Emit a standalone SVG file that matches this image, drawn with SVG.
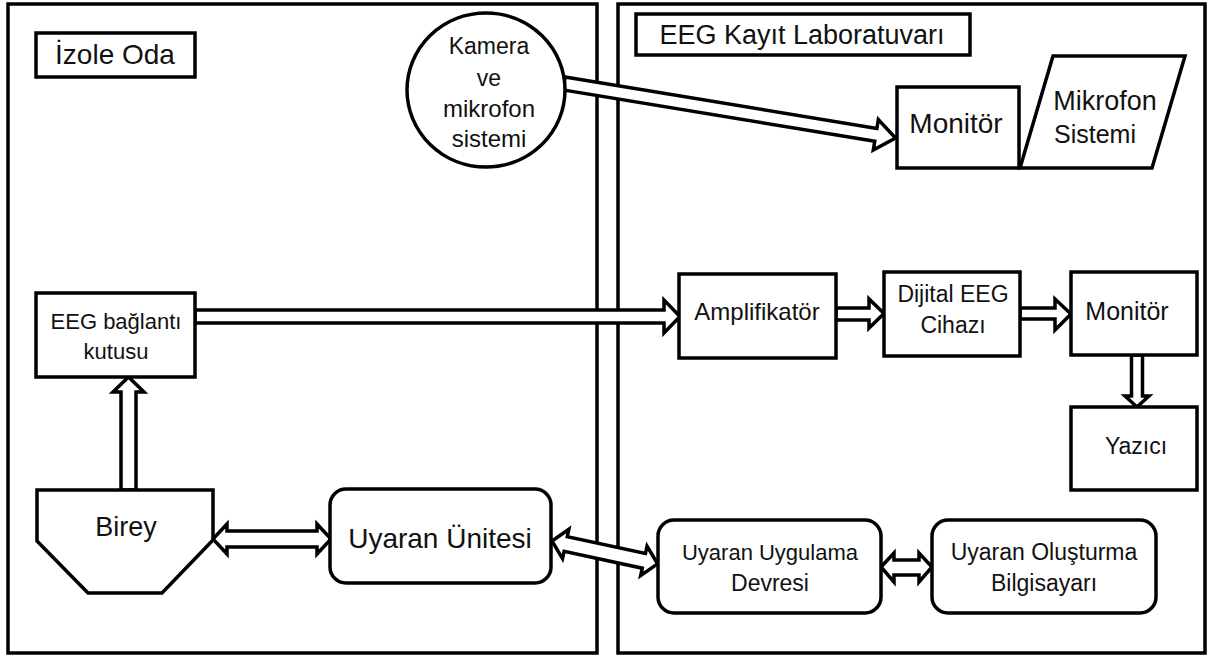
<svg xmlns="http://www.w3.org/2000/svg" width="1215" height="659" viewBox="0 0 1215 659">
<style>
.room{fill:none;stroke:#000;stroke-width:3.5}
.box{fill:#fff;stroke:#000;stroke-width:3.5}
.arr{fill:#fff;stroke:#000;stroke-width:3.5;stroke-linejoin:miter}
text{font-family:"Liberation Sans",Arial,sans-serif;fill:#111;text-anchor:middle}
</style>
<rect width="1215" height="659" fill="#fff"/>
<g id="rooms">
<rect class="room" x="8" y="4" width="589" height="649"/>
<rect class="room" x="618" y="4" width="587" height="649"/>
</g>
<g id="connectors">
<!-- camera -> monitor -->
<polygon class="arr" transform="translate(564,83.5) rotate(9.35)" points="0,-6.5 316,-6.5 316,-15.5 336,0 316,15.5 316,6.5 0,6.5"/>
<!-- EEG box -> Amplifikator -->
<polygon class="arr" points="195,310 664,310 664,300 680,316.5 664,333 664,323 195,323"/>
<!-- Amp -> Dijital -->
<polygon class="arr" points="836,308 869,308 869,299 884,313.5 869,328 869,320 836,320"/>
<!-- Dijital -> Monitor -->
<polygon class="arr" points="1020,308 1055,308 1055,299 1071,314 1055,330 1055,319 1020,319"/>
<!-- Monitor -> Yazici -->
<polygon class="arr" points="1131.5,355 1142.5,355 1142.5,396 1149,396 1137,407 1125,396 1131.5,396"/>
<!-- Birey -> EEG box -->
<polygon class="arr" points="121,490 136,490 136,392 144,392 128.5,377 113,392 121,392"/>
<!-- Birey <-> Uyaran Unitesi -->
<polygon class="arr" points="213,539 227,524 227,531 317,531 317,524 331,539 317,554 317,547 227,547 227,554"/>
<!-- Uyaran Unitesi <-> Uygulama -->
<polygon class="arr" transform="translate(552,541) rotate(12.2)" points="0,0 14,-15 14,-7.5 94,-7.5 94,-15 108,0 94,15 94,7.5 14,7.5 14,15"/>
<!-- Uygulama <-> Olusturma -->
<polygon class="arr" points="881,567 894,553 894,560 919,560 919,553 932,567 919,582 919,575 894,575 894,582"/>
</g>
<g id="izole-oda-label">
<rect class="box" x="36" y="33" width="159" height="44"/>
<text x="115" y="64" font-size="28">İzole Oda</text>
</g>
<g id="kamera">
<ellipse class="box" cx="486" cy="90" rx="79" ry="77"/>
<text x="489" y="54" font-size="23">Kamera</text>
<text x="489" y="86" font-size="23">ve</text>
<text x="489" y="117" font-size="24">mikrofon</text>
<text x="489" y="147" font-size="24">sistemi</text>
</g>
<g id="eeg-lab-label">
<rect class="box" x="636" y="14" width="334" height="41"/>
<text x="802" y="44" font-size="27">EEG Kayıt Laboratuvarı</text>
</g>
<g id="monitor-top">
<rect class="box" x="897" y="87" width="122" height="81"/>
<text x="956" y="133" font-size="28">Monitör</text>
</g>
<g id="mikrofon-sistemi">
<polygon class="box" points="1020,168 1053,56 1185,56 1152,168"/>
<text x="1105" y="110" font-size="27">Mikrofon</text>
<text x="1095" y="143" font-size="25">Sistemi</text>
</g>
<g id="eeg-baglanti">
<rect class="box" x="36" y="293" width="159" height="84"/>
<text x="116" y="329" font-size="22">EEG bağlantı</text>
<text x="116" y="359" font-size="22">kutusu</text>
</g>
<g id="birey">
<polygon class="box" points="37,490 213,490 213,540 162,593 88,593 37,541"/>
<text x="126" y="536" font-size="27">Birey</text>
</g>
<g id="uyaran-unitesi">
<rect class="box" x="330" y="489" width="221" height="94" rx="16"/>
<text x="440" y="548" font-size="28">Uyaran Ünitesi</text>
</g>
<g id="amplifikator">
<rect class="box" x="679" y="274" width="157" height="84"/>
<text x="757" y="320" font-size="24">Amplifikatör</text>
</g>
<g id="dijital-eeg">
<rect class="box" x="884" y="272" width="136" height="84"/>
<text x="953" y="302" font-size="23">Dijital EEG</text>
<text x="953" y="333" font-size="23">Cihazı</text>
</g>
<g id="monitor">
<rect class="box" x="1071" y="272" width="126" height="83"/>
<text x="1127" y="320" font-size="25">Monitör</text>
</g>
<g id="yazici">
<rect class="box" x="1071" y="407" width="126" height="83"/>
<text x="1136" y="454" font-size="23">Yazıcı</text>
</g>
<g id="uyaran-uygulama">
<rect class="box" x="658" y="520" width="223" height="93" rx="16"/>
<text x="770" y="560" font-size="22">Uyaran Uygulama</text>
<text x="770" y="591" font-size="23">Devresi</text>
</g>
<g id="uyaran-olusturma">
<rect class="box" x="932" y="520" width="224" height="93" rx="16"/>
<text x="1044" y="560" font-size="23">Uyaran Oluşturma</text>
<text x="1044" y="591" font-size="23">Bilgisayarı</text>
</g>
</svg>
